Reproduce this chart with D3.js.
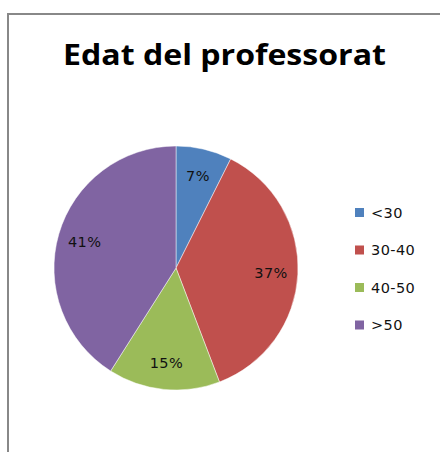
<!DOCTYPE html>
<html>
<head>
<meta charset="utf-8">
<style>
body { margin:0; background:#fff; }
svg { display:block; }
</style>
</head>
<body>
<svg id="svg"></svg>
<script src="https://cdnjs.cloudflare.com/ajax/libs/d3/7.8.5/d3.min.js"></script>
<script>
// age groups of the teaching staff, share in percent
var categories = ['<30', '30-40', '40-50', '>50']
var shares = [7.4, 36.8, 14.8, 41.0]
var labels = ['7%', '37%', '15%', '41%']
var colors = ['#4F81BD', '#C0504D', '#9BBB59', '#8064A2']
var title = 'Edat del professorat'

var width = 440, height = 452
var cx = 176, cy = 268, radius = 122

var svg = d3.select('#svg')
  .attr('width', width)
  .attr('height', height)

// chart frame (cut off on right and bottom)
svg.append('rect')
  .attr('x', 8).attr('y', 14)
  .attr('width', 460).attr('height', 460)
  .attr('fill', '#fff')
  .attr('stroke', '#888')
  .attr('stroke-width', 2)

svg.append('text')
  .attr('x', 63).attr('y', 64.5)
  .attr('font-family', '"Open Sans", Lato, sans-serif')
  .attr('font-weight', 'bold')
  .attr('font-size', 28)
  .attr('textLength', 323)
  .attr('lengthAdjust', 'spacingAndGlyphs')
  .attr('fill', '#000')
  .text(title)

var pie = d3.pie().sort(null).value(function(d){ return d })
var arcs = pie(shares)
var arc = d3.arc().innerRadius(0).outerRadius(radius)
var labelArc = d3.arc().innerRadius(radius * 0.78).outerRadius(radius * 0.78)

var g = svg.append('g').attr('transform', 'translate(' + cx + ',' + cy + ')')

g.selectAll('path')
  .data(arcs)
  .enter().append('path')
  .attr('d', arc)
  .attr('fill', function(d, i){ return colors[i] })
  .attr('stroke', '#fff')
  .attr('stroke-opacity', 0.6)
  .attr('stroke-width', 0.8)

g.selectAll('text')
  .data(arcs)
  .enter().append('text')
  .attr('transform', function(d){ return 'translate(' + labelArc.centroid(d) + ')' })
  .attr('text-anchor', 'middle')
  .attr('dy', '0.36em')
  .attr('font-family', '"DejaVu Sans", Verdana, sans-serif')
  .attr('font-size', 14.5)
  .attr('letter-spacing', 0.4)
  .attr('fill', '#111')
  .text(function(d, i){ return labels[i] })

// legend
var legendY = d3.scalePoint().domain(categories).range([212.5, 325])
var legend = svg.append('g')
var item = legend.selectAll('g')
  .data(categories)
  .enter().append('g')
  .attr('transform', function(d){ return 'translate(355,' + legendY(d) + ')' })
item.append('rect')
  .attr('x', 0).attr('y', -4.5)
  .attr('width', 9).attr('height', 9)
  .attr('fill', function(d, i){ return colors[i] })
item.append('text')
  .attr('x', 16).attr('dy', '0.36em')
  .attr('font-family', '"DejaVu Sans", Verdana, sans-serif')
  .attr('font-size', 14.5)
  .attr('letter-spacing', 0.4)
  .attr('fill', '#111')
  .text(function(d){ return d })
</script>
</body>
</html>
